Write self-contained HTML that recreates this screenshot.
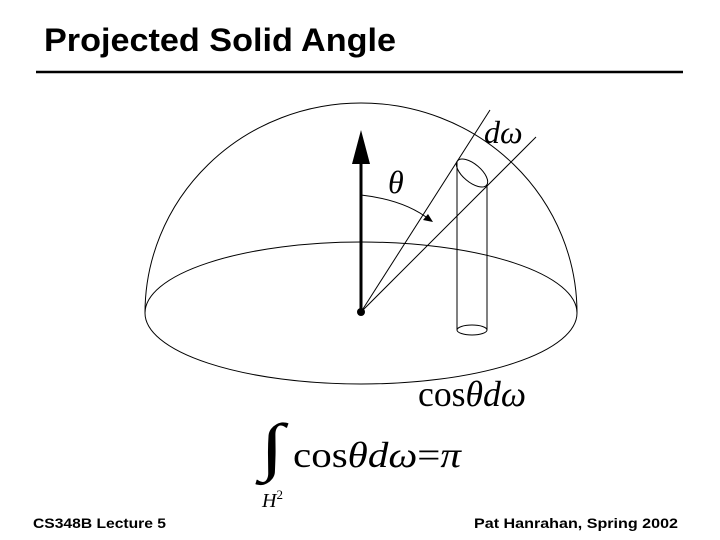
<!DOCTYPE html>
<html><head><meta charset="utf-8"><style>
html,body{margin:0;padding:0;background:#fff;}
svg{display:block;}
</style></head><body>
<svg width="720" height="540" viewBox="0 0 720 540" xmlns="http://www.w3.org/2000/svg">
<text x="44" y="51" font-family="Liberation Sans, sans-serif" font-weight="bold" font-size="32" textLength="352" lengthAdjust="spacingAndGlyphs">Projected Solid Angle</text>
<line x1="36" y1="72" x2="683" y2="72" stroke="#000" stroke-width="2.5"/>
<g fill="none" stroke="#000" stroke-width="1">
<ellipse cx="361" cy="313" rx="216" ry="71"/>
<path d="M145 313 A216 210 0 0 1 577 313"/>
<line x1="361" y1="312" x2="490" y2="110"/>
<line x1="361" y1="312" x2="536" y2="137"/>
<line x1="457" y1="162" x2="457" y2="330"/>
<line x1="487" y1="185" x2="487" y2="330"/>
<ellipse cx="472" cy="173" rx="19" ry="9" transform="rotate(40 472 173)"/>
<ellipse cx="472" cy="330" rx="15" ry="5"/>
<path d="M361 195 Q405 200 430 220"/>
</g>
<line x1="361" y1="312" x2="361" y2="160" stroke="#000" stroke-width="3"/>
<polygon points="361,130 352,164 370,164" fill="#000"/>
<polygon points="433,222 423,220 428,214" fill="#000"/>
<circle cx="361" cy="312" r="4" fill="#000"/>
<g font-family="Liberation Serif, serif">
<text x="388" y="193" font-size="32" font-style="italic">θ</text>
<text x="484" y="143" font-size="32" font-style="italic">dω</text>
<text x="418" y="406" font-size="36" textLength="108" lengthAdjust="spacingAndGlyphs">cos<tspan font-style="italic">θ</tspan><tspan font-style="italic">dω</tspan></text>
<text x="260" y="468" font-size="64" textLength="24" lengthAdjust="spacingAndGlyphs">∫</text>
<text x="293" y="467" font-size="36" textLength="168" lengthAdjust="spacingAndGlyphs">cos<tspan font-style="italic">θ</tspan><tspan font-style="italic">dω</tspan>=<tspan font-style="italic">π</tspan></text>
<text x="262" y="507" font-size="20" font-style="italic">H<tspan font-size="13" font-style="normal" dy="-8">2</tspan></text>
</g>
<text x="33" y="528" font-family="Liberation Sans, sans-serif" font-weight="bold" font-size="14" textLength="133" lengthAdjust="spacingAndGlyphs">CS348B Lecture 5</text>
<text x="474" y="528" font-family="Liberation Sans, sans-serif" font-weight="bold" font-size="14" textLength="204" lengthAdjust="spacingAndGlyphs">Pat Hanrahan, Spring 2002</text>
</svg>
</body></html>
